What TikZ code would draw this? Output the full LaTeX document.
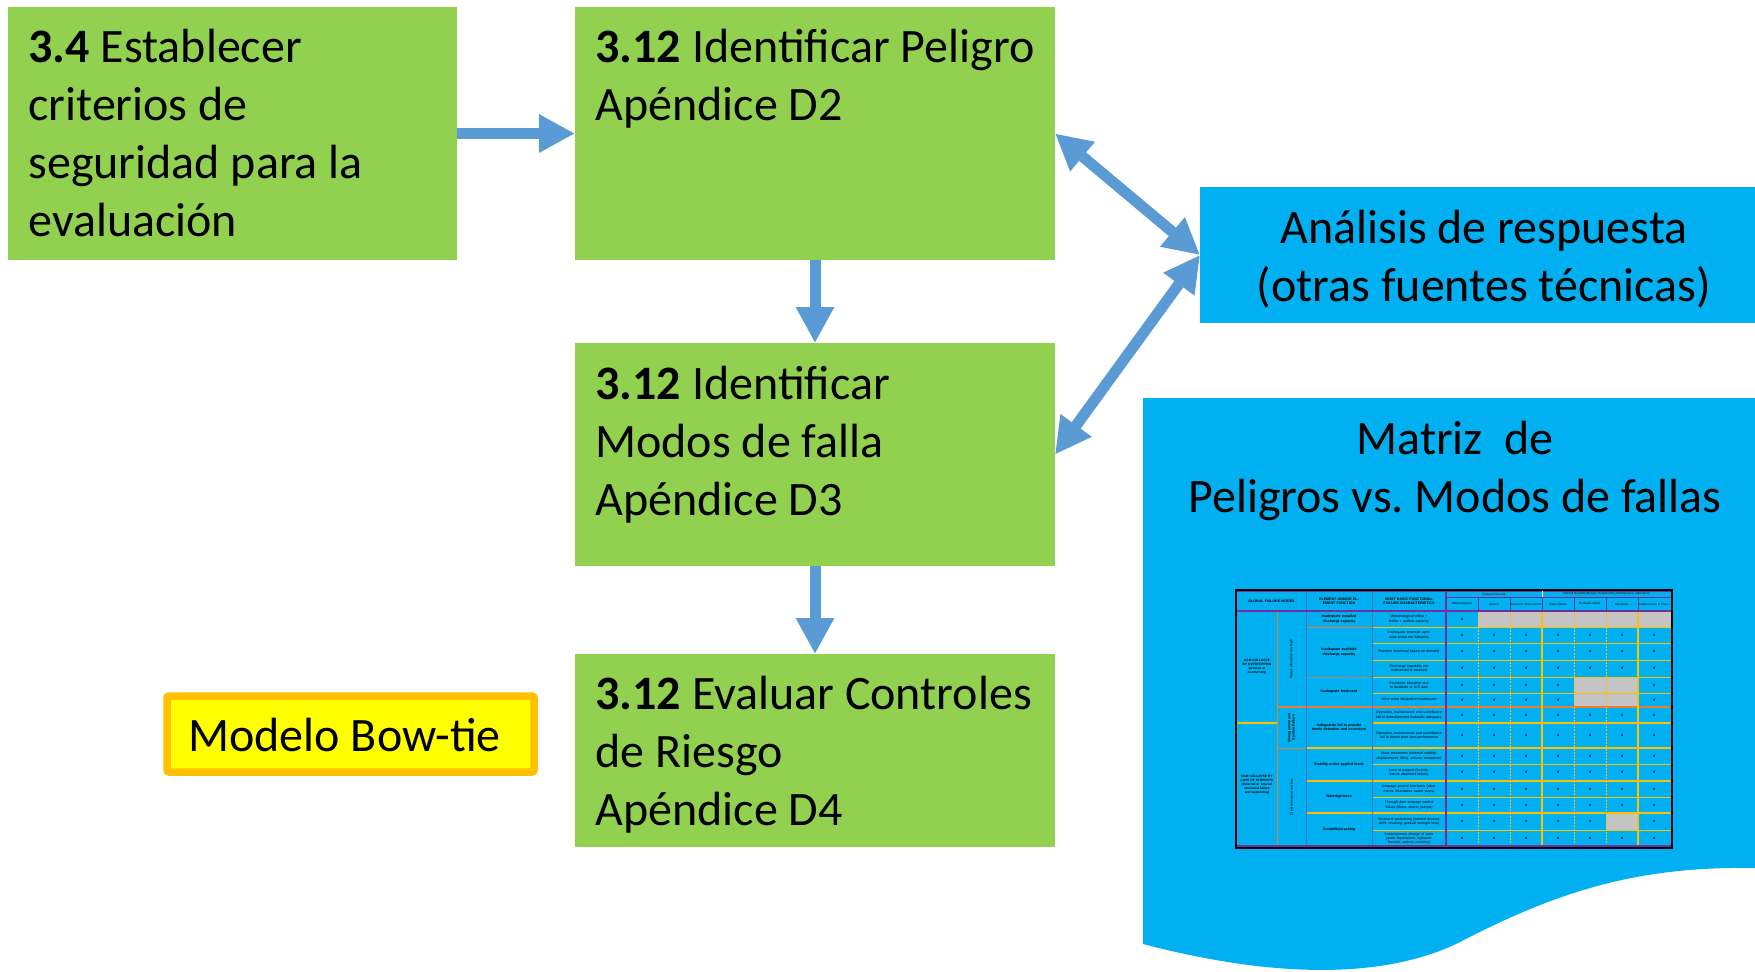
\documentclass[tikz,border=0pt]{standalone}
\usepackage{fontspec}
\setmainfont{Carlito}
\newfontfamily\tabfont{Liberation Sans}
\usetikzlibrary{arrows.meta}
\definecolor{boxgreen}{HTML}{92D050}
\definecolor{skyblue}{HTML}{00B0F0}
\definecolor{arrowblue}{HTML}{5B9BD5}
\definecolor{bowyellow}{HTML}{FFFF00}
\definecolor{boworange}{HTML}{FFC000}
\definecolor{gridgold}{HTML}{FFC000}
\definecolor{gridorange}{HTML}{ED7D31}
\definecolor{gridpurple}{HTML}{7030A0}
\definecolor{gridblue}{HTML}{4472C4}
\definecolor{cellgrey}{HTML}{C4C4C4}
\begin{document}
\begin{tikzpicture}[x=0.5pt,y=-0.5pt,
  greenbox/.style={fill=boxgreen, draw=none, inner sep=0, outer sep=0, anchor=north west},
  bluebox/.style={fill=skyblue, draw=none, inner sep=0, outer sep=0, anchor=north west},
  bowbox/.style={fill=bowyellow, draw=boworange, line width=3.75pt, rounded corners=1pt, inner sep=0, outer sep=0, anchor=north west},
  txt/.style={anchor=base west, inner sep=0, font=\fontsize{24pt}{29pt}\selectfont},
  arr/.style={draw=arrowblue, line width=5.5pt, -{Triangle[length=18pt,width=18pt]}},
  darr/.style={draw=arrowblue, line width=5.5pt, {Triangle[length=18pt,width=18pt]}-{Triangle[length=18pt,width=18pt]}},
  tab/.style={inner sep=0.3pt, align=center, font=\tabfont\fontsize{1.8pt}{2.1pt}\selectfont},
  tabb/.style={tab, font=\tabfont\bfseries\fontsize{1.8pt}{2.1pt}\selectfont}
]
\useasboundingbox (0,0) rectangle (1755,971);

% boxes
\node[greenbox, minimum width=224.5pt, minimum height=126.5pt] (b1) at (8,7) {};
\node[greenbox, minimum width=240pt, minimum height=126.5pt] (b2) at (575,7) {};
\node[greenbox, minimum width=240pt, minimum height=111.5pt] (b3) at (575,343) {};
\node[greenbox, minimum width=240pt, minimum height=96.5pt] (b4) at (575,654) {};
\node[bluebox, minimum width=277.5pt, minimum height=68pt] (ana) at (1200,187) {};
\node[bowbox, minimum width=183.5pt, minimum height=38pt] (bow) at (167,696) {};

% matrix sheet with wavy bottom
\fill[skyblue] (1143,398) -- (1755,398) -- (1755,868)
  .. controls (1640,866) and (1560,890) .. (1460,942)
  .. controls (1400,972) and (1300,985) .. (1143,944) -- cycle;

% texts
\node[txt] (t1) at (28,62) {\begin{tabular}[t]{@{}l@{}}\textbf{3.4} Establecer\\criterios de\\seguridad para la\\evaluación\end{tabular}};
\node[txt] (t2) at (595,62) {\begin{tabular}[t]{@{}l@{}}\textbf{3.12} Identificar Peligro\\Apéndice D2\end{tabular}};
\node[txt] (t3) at (595,399) {\begin{tabular}[t]{@{}l@{}}\textbf{3.12} Identificar\\Modos de falla\\Apéndice D3\end{tabular}};
\node[txt] (t4) at (595,709) {\begin{tabular}[t]{@{}l@{}}\textbf{3.12} Evaluar Controles\\de Riesgo\\Apéndice D4\end{tabular}};
\node[txt, anchor=base] (anat) at (1484,243) {\begin{tabular}[t]{@{}c@{}}Análisis de respuesta\\(otras fuentes técnicas)\end{tabular}};
\node[txt, anchor=base] (matt) at (1455,454) {\begin{tabular}[t]{@{}c@{}}Matriz\ \ de\\Peligros vs.\ Modos de fallas\end{tabular}};
\node[txt] (bowt) at (188,751) {Modelo Bow-tie};

% arrows
\draw[arr] (b1.east) -- (b2.west);
\draw[arr] (b2.south) -- (b3.north);
\draw[arr] (b3.south) -- (b4.north);
\draw[darr] (b2.east) -- (ana.west);
\draw[darr] (b3.east) -- (ana.west);

% ---------- miniature matrix table ----------
% x marks
\foreach \ya/\yb [count=\i] in {611/627,627/643,643/660,660/677,677/693,693/707,707/723,723/748,748/764,764/781,781/797,797/813,813/830,830/847}{
  \foreach \j in {1,...,7}{
    \pgfmathtruncatemacro\g{((\i==1)&&(\j>1)) || (((\i==5)||(\i==6))&&((\j==5)||(\j==6))) || ((\i==13)&&(\j==6))}
    \ifnum\g=0
      \node[tabb, font=\tabfont\bfseries\fontsize{2.2pt}{2.4pt}\selectfont] (x\i-\j) at ({1462+32*(\j-1)},{(\ya+\yb)/2}) {x};
    \fi
  }
}
% grey cells
\fill[cellgrey] (1478,611) rectangle (1671,627);
\fill[cellgrey] (1574,677) rectangle (1638,707);
\fill[cellgrey] (1606,813) rectangle (1638,830);

% grid lines
\foreach \y in {627,643,660,677,693,764,797,830}
  \draw[gridgold, line width=0.5pt] (1372,\y) -- (1671,\y);
\foreach \y in {748,781,813}
  \draw[gridgold, line width=0.6pt] (1306,\y) -- (1671,\y);
\draw[gridorange, line width=0.4pt] (1306,627) -- (1372,627);
\draw[gridorange, line width=0.4pt, dash pattern=on 1pt off 0.5pt] (1306,677) -- (1372,677);
\draw[gridorange, line width=0.7pt] (1277,707) -- (1671,707);
\draw[gridgold, line width=0.9pt] (1237,723) -- (1277,723);
\draw[gridgold, line width=0.9pt] (1372,723) -- (1671,723);
\draw[gridorange, line width=0.4pt] (1277,748) -- (1306,748);
\foreach \x in {1478,1510,1574,1606}
  \draw[gridgold, line width=0.4pt, dash pattern=on 1pt off 0.6pt] (\x,611) -- (\x,847);
\foreach \x in {1542,1638}
  \draw[gridgold, line width=0.6pt] (\x,611) -- (\x,847);
\draw[gridorange, line width=0.4pt] (1277,611) -- (1277,847);
\draw[gridblue, line width=0.4pt] (1306,591) -- (1306,847);
\draw[gridblue, line width=0.5pt] (1372,591) -- (1372,847);
\draw[gridpurple, line width=0.9pt] (1446,591) -- (1446,847);
% header lines
\draw[gridpurple, line width=0.6pt] (1237,591) -- (1671,591);
\draw[gridpurple, line width=0.5pt] (1446,597) -- (1671,597);
\draw[gridpurple, line width=0.8pt] (1237,611) -- (1671,611);
\foreach \x in {1478,1510,1542,1574,1606,1638}
  \draw[gridpurple, line width=0.4pt] (\x,597) -- (\x,611);
\draw[white, line width=0.4pt] (1542,591) -- (1542,597);
\draw[gridpurple, line width=0.6pt] (1237,846) -- (1671,846);
% outer frame
\draw[black, line width=1pt] (1236,590) rectangle (1672,847.5);

% header texts
\node[tabb, text width=32pt] (h1) at (1271.5,601) {GLOBAL FAILURE MODES};
\node[tabb, text width=31pt] (h2) at (1339,601) {ELEMENT AND/OR ELEMENT FUNCTION};
\node[tabb, text width=35pt] (h3) at (1409,601) {MOST BASIC FUNCTIONAL FAILURE CHARACTERISTICS};
\node[tab, font=\tabfont\fontsize{1.5pt}{1.8pt}\selectfont] (h4) at (1494,594) {External Hazards};
\node[tab, font=\tabfont\fontsize{1.5pt}{1.8pt}\selectfont] (h5) at (1606.5,594) {Internal Hazards (Design, Construction, Maintenance, Operation)};
\foreach \t [count=\j] in {Meteorological,Seismic,{Reservoir Environment},{Water barrier},{Hydraulic struct.},Mech/elec,{Infrastructure \& Plans}}
  \node[tab, text width=15.5pt, font=\tabfont\fontsize{1.5pt}{1.8pt}\selectfont] (s\j) at ({1462+32*(\j-1)},604) {\t};

% column 1
\node[tabb, text width=18pt, font=\tabfont\bfseries\fontsize{1.6pt}{2.0pt}\selectfont] (g1) at (1257,667) {DAM COLLAPSE BY OVERTOPPING\\(erosion or overturning)};
\node[tabb, text width=18pt, font=\tabfont\bfseries\fontsize{1.6pt}{2.0pt}\selectfont] (g2) at (1257,785) {DAM COLLAPSE BY LOSS OF STRENGTH\\(External or internal structural failure and weakening)};
% column 2 (rotated)
\node[tab, rotate=90] (v1) at (1291.5,659) {Water elevation too high};
\node[tabb, rotate=90] (v2) at (1291.5,727.5) {Management and\\System Failure};
\node[tab, rotate=90] (v3) at (1291.5,797.5) {Crest elevation too low};
% column 3
\foreach \ya/\yb/\t [count=\k] in {611/627/{Inadequate installed discharge capacity},627/677/{Inadequate available discharge capacity},677/707/{Inadequate freeboard},707/748/{Safeguards fail to provide timely detection and correction},748/781/{Stability under applied loads},781/813/{Watertightness},813/847/{Durability/cracking}}
  \node[tabb, text width=31pt] (e\k) at (1339,{(\ya+\yb)/2}) {\t};
% column 4
\foreach \ya/\yb/\t [count=\k] in {611/627/{Meteorological inflow + buffer + outflow capacity},627/643/{Inadequate reservoir operation (rules not followed)},643/660/{Random functional failure on demand},660/677/{Discharge capability not maintained or retained},677/693/{Excessive elevation due to landslide or U/S dam},693/707/{Wind wave dissipation inadequate},707/723/{Operation, maintenance and surveillance fail to detect/prevent hydraulic adequacy},723/748/{Operation, maintenance and surveillance fail to detect poor dam performance},748/764/{Mass movement (external stability: displacement, tilting, seismic resistance)},764/781/{Loss of support (foundation or abutment failure)},781/797/{Seepage around interfaces (abutments, foundation, water stops)},797/813/{Through dam seepage control failure (filters, drains, pumps)},813/830/{Structural weakening (internal erosion, AAR, crushing, gradual strength loss)},830/847/{Instantaneous change of state (static liquefaction, hydraulic fracture, seismic cracking)}}
  \node[tab, text width=35pt] (c\k) at (1409,{(\ya+\yb)/2}) {\t};
\end{tikzpicture}
\end{document}
